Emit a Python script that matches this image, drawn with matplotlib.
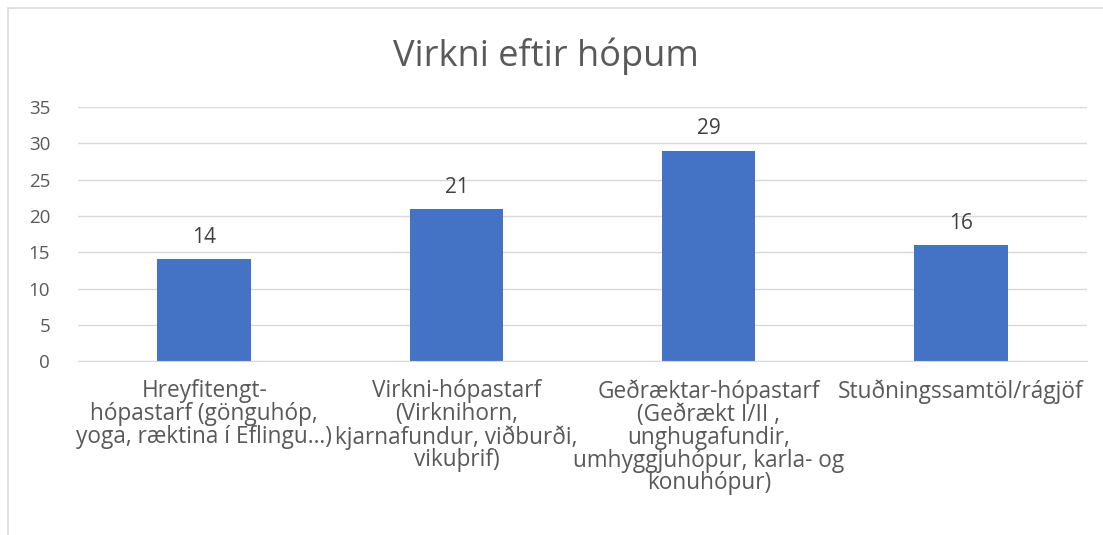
import matplotlib.pyplot as plt
from matplotlib.patches import Rectangle

plt.rcParams['font.family'] = ['Open Sans', 'DejaVu Sans']

categories = [
    'Hreyfitengt-\nhópastarf (gönguhóp,\nyoga, ræktina í Eflingu…)',
    'Virkni-hópastarf\n(Virknihorn,\nkjarnafundur, viðburði,\nvikuþrif)',
    'Geðræktar-hópastarf\n(Geðrækt I/II ,\nunghugafundir,\numhyggjuhópur, karla- og\nkonuhópur)',
    'Stuðningssamtöl/rágjöf',
]
values = [14, 21, 29, 16]
yticks = [0, 5, 10, 15, 20, 25, 30, 35]

text_color = '#595959'
grid_color = '#D9D9D9'
bar_color = '#4472C4'

fig = plt.figure(figsize=(11.03, 5.35), dpi=100)
fig.patches.append(Rectangle((8 / 1103, -0.01), 1.0, 1 - 8 / 535 + 0.01,
                             transform=fig.transFigure, fill=False,
                             edgecolor=grid_color, linewidth=1.2))

ax = fig.add_axes([0.0707, 0.325, 0.915, 0.475])
x = range(len(values))
bars = ax.bar(x, values, width=0.37, color=bar_color, zorder=3)

for b, v in zip(bars, values):
    ax.annotate(str(v), (b.get_x() + b.get_width() / 2, v),
                xytext=(0, 8), textcoords='offset points',
                ha='center', va='bottom', fontsize=15, color='#404040')

ax.set_xlim(-0.5, len(values) - 0.5)
ax.set_ylim(0, 35)
ax.set_yticks(yticks)
ax.set_yticklabels([str(t) for t in yticks], fontsize=13.5, color=text_color)
ax.set_xticks(list(x))
ax.set_xticklabels(categories, fontsize=16.3, color=text_color, linespacing=0.94)
ax.tick_params(axis='both', length=0)
ax.tick_params(axis='x', pad=13)
ax.tick_params(axis='y', pad=20)

ax.grid(axis='y', color=grid_color, linewidth=1, zorder=0)
for s in ['left', 'right', 'top']:
    ax.spines[s].set_visible(False)
ax.spines['bottom'].set_color(grid_color)
ax.spines['bottom'].set_zorder(4)

fig.text(0.495, 0.895, 'Virkni eftir hópum', ha='center', va='center',
         fontsize=26, color=text_color)

fig.savefig('out.png', dpi=100)
